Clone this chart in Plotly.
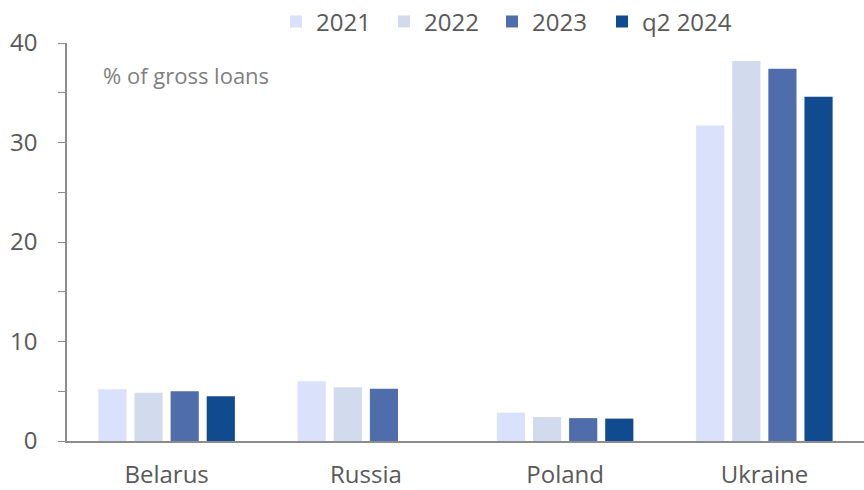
import plotly.graph_objects as go

# Non-performing loans by country
countries = ["Belarus", "Russia", "Poland", "Ukraine"]
series_names = ["2021", "2022", "2023", "q2 2024"]
v2021 = [5.2, 6.0, 2.85, 31.7]
v2022 = [4.85, 5.4, 2.4, 38.2]
v2023 = [5.0, 5.25, 2.3, 37.4]
vq2_2024 = [4.5, None, 2.25, 34.6]
y_ticks = [0, 10, 20, 30, 40]

colors = ["#DAE1FB", "#D2DAED", "#4F6DAA", "#104A8F"]
values = [v2021, v2022, v2023, vq2_2024]
legend_ids = ["legend", "legend", "legend", "legend2"]

fig = go.Figure()
for name, vals, col, lg in zip(series_names, values, colors, legend_ids):
    fig.add_trace(go.Bar(name=name, x=countries, y=vals, marker_color=col,
                         marker_line_width=0, legend=lg))

axis_gray = "#8C8C8C"
text_gray = "#595959"
font_family = "Open Sans"
plot_w = 797
plot_h = 398
legend_y = 1 + (43 - 22) / plot_h
legend_font = dict(size=24, color=text_gray, family=font_family)

fig.update_layout(
    width=864, height=490,
    margin=dict(l=67, r=0, t=43, b=49, autoexpand=False),
    paper_bgcolor="white", plot_bgcolor="white",
    barmode="group", bargap=0.275, bargroupgap=0.22,
    font=dict(family=font_family, color=text_gray, size=24),
    showlegend=True,
    legend=dict(orientation="h", x=(288 - 12 - 67) / plot_w, xanchor="left",
                y=legend_y, yanchor="middle", font=legend_font,
                entrywidth=63, entrywidthmode="pixels", itemwidth=30,
                bgcolor="rgba(0,0,0,0)"),
    legend2=dict(orientation="h", x=(614 - 12 - 67) / plot_w, xanchor="left",
                 y=legend_y, yanchor="middle", font=legend_font, itemwidth=30,
                 bgcolor="rgba(0,0,0,0)"),
    xaxis=dict(showline=True, linecolor=axis_gray, linewidth=1.5, ticks="",
               tickfont=dict(size=24, color=text_gray), ticklabelstandoff=11,
               showgrid=False, zeroline=False),
    yaxis=dict(range=[0, 40], tickvals=y_ticks, showline=True, linecolor=axis_gray,
               linewidth=1.5, ticks="outside", ticklen=7, tickcolor=axis_gray,
               tickfont=dict(size=24, color=text_gray), ticklabelstandoff=16,
               showgrid=False, zeroline=False,
               minor=dict(ticks="outside", dtick=5, ticklen=7, tickcolor=axis_gray)),
    annotations=[dict(text="% of gross loans", xref="paper", yref="paper",
                      x=(101 - 67) / plot_w, y=(441 - 75) / plot_h, xanchor="left",
                      yanchor="middle", showarrow=False,
                      font=dict(size=22, color="#7F7F7F", family=font_family))],
)

fig.write_html("out.html")
